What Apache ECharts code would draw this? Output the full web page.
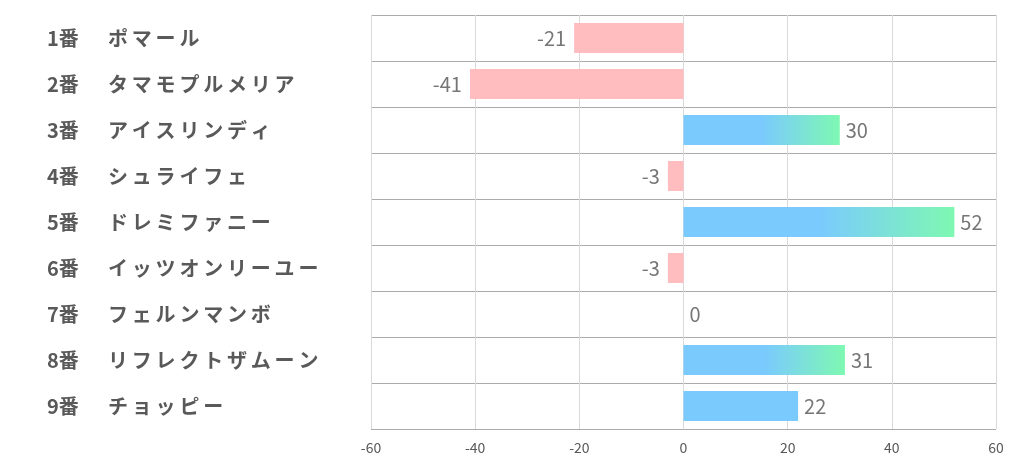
<!DOCTYPE html>
<html><head><meta charset="utf-8">
<script src="https://cdn.jsdelivr.net/npm/echarts@6/dist/echarts.min.js"></script>
<style>html,body{margin:0;padding:0;background:#fff}#c{width:1022px;height:470px}</style>
</head><body><div id="c"></div>
<script>
const numbers = ['1番','2番','3番','4番','5番','6番','7番','8番','9番'];
const names = ['ポマール','タマモプルメリア','アイスリンディ','シュライフェ','ドレミファニー','イッツオンリーユー','フェルンマンボ','リフレクトザムーン','チョッピー'];
const values = [-21, -41, 30, -3, 52, -3, 0, 31, 22];
const xTicks = [-60, 60, 20];

const categories = numbers.map((n, i) => n + '|' + names[i]);
const blue = '#7ACAFE', green = '#7EF8B2', pink = '#FFBDC0';
const data = values.map(v => ({
  value: v,
  itemStyle: { color: v < 0 ? pink : (v >= 25 ? new echarts.graphic.LinearGradient(0,0,1,0,[{offset:0,color:blue},{offset:0.5,color:blue},{offset:1,color:green}]) : blue) },
  label: { position: v < 0 ? 'left' : 'right', distance: v < 0 ? 8 : 6 }
}));

const chart = echarts.init(document.getElementById('c'));
chart.setOption({
  animation: false,
  grid: { left: 371, right: 26, top: 15, bottom: 41, containLabel: false },
  xAxis: {
    type: 'value', min: xTicks[0], max: xTicks[1], interval: xTicks[2],
    axisLine: { show: false }, axisTick: { show: false },
    splitLine: { lineStyle: { color: '#d9d9d9', width: 1 } },
    axisLabel: { color: '#595959', fontSize: 14, margin: 12, fontFamily: 'Noto Sans CJK JP' }
  },
  yAxis: {
    type: 'category', data: categories, inverse: true,
    axisLine: { show: false }, axisTick: { show: false },
    splitLine: { show: true, lineStyle: { color: '#ababab', width: 1 } },
    axisLabel: {
      align: 'left', margin: 324, interval: 0,
      formatter: v => { const p = v.split('|'); return '{a|' + p[0] + '}' + Array.from(p[1]).map(ch => '{b|' + ch + '}').join(''); },
      rich: {
        a: { width: 61, fontSize: 20, fontWeight: 'bold', color: '#595959', fontFamily: 'Noto Sans CJK JP' },
        b: { width: 23.8, align: 'left', fontSize: 20, fontWeight: 'bold', color: '#595959', fontFamily: 'Noto Sans CJK JP' }
      }
    }
  },
  series: [{
    type: 'bar', data: data, barWidth: 30,
    label: { show: true, color: '#767676', fontSize: 20, fontFamily: 'Noto Sans CJK JP' }
  }]
});
</script></body></html>
